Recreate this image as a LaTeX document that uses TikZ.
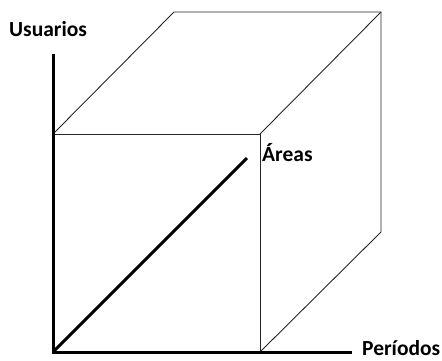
\documentclass[tikz,border=0pt]{standalone}
\usepackage{fontspec}
\setmainfont{Carlito}
\usetikzlibrary{positioning}
\tikzset{
  axisline/.style={line width=3pt},
  cubeline/.style={line width=0.9pt, black!85},
  axislabel/.style={font=\fontsize{21.5}{24}\selectfont\bfseries, inner sep=0pt}
}

\begin{document}
\begin{tikzpicture}[x=1pt, y=-1pt]
  \useasboundingbox (0,0) rectangle (442,360);

  % Cube corners
  \coordinate (o)  at (53,352);
  \coordinate (fr) at (260,352);
  \coordinate (ft) at (53,134);
  \coordinate (ftr) at (260,134);
  \coordinate (bt) at (174,12);
  \coordinate (btr) at (381,12);
  \coordinate (bbr) at (381,232);
  \coordinate (yend) at (53,54);
  \coordinate (xend) at (352,352);
  \coordinate (dend) at (247,158);

  % Labels
  \node[axislabel, anchor=base west] (usuarios) at (9,36) {Usuarios};
  \node[axislabel, anchor=base west] (areas) at (262,161) {Áreas};
  \node[axislabel, anchor=base west] (periodos) at (362,355) {Períodos};

  % Cube
  \draw[cubeline] (ft) -- (ftr) -- (fr);
  \draw[cubeline] (ft) -- (bt) -- (btr) -- (bbr) -- (fr);
  \draw[cubeline] (ftr) -- (btr);

  % Axes
  \draw[axisline] (yend) -- (o) -- (xend);
  \draw[axisline] (o) -- (dend);

\end{tikzpicture}
\end{document}
